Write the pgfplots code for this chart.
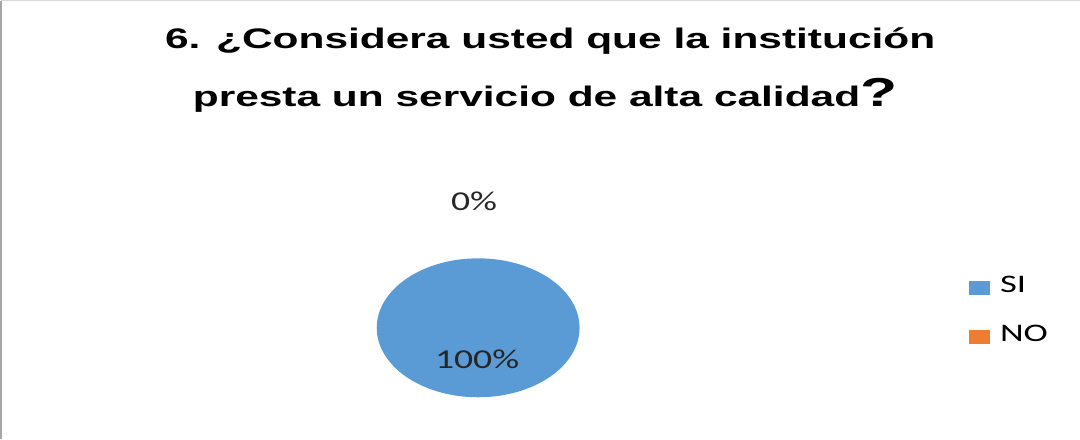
\documentclass[border=0pt]{standalone}
\usepackage{pgfplots}
\pgfplotsset{compat=1.18}
\usepackage{pgfplotstable}
\usepackage{fontspec}
\setmainfont{Carlito}
\newfontfamily\titlefont[FakeStretch=1.5]{Liberation Sans}
\newfontfamily\labfont[FakeStretch=1.38]{Carlito}
\newfontfamily\legfont[FakeStretch=1.45]{Carlito}
\definecolor{pieblue}{HTML}{5B9BD5}
\definecolor{pieorange}{HTML}{ED7D31}
\pgfplotstableread{
cat value
SI 100
NO 0
}\piedata
\begin{document}
\begin{tikzpicture}
\begin{axis}[
  width=1080bp, height=438bp, scale only axis,
  xmin=0, xmax=1080, ymin=0, ymax=438,
  axis lines=none, clip=false,
  legend style={draw=none, fill=none, at={(0.8917,0.285)}, anchor=west,
    inner sep=0pt,
    nodes={inner sep=0pt, text height=12bp, text depth=2bp},
    font=\legfont\fontsize{25}{28}\selectfont, row sep=34bp,
    legend cell align=left,
    /tikz/every odd column/.append style={column sep=10bp}},
  legend image code/.code={\fill[#1] (0bp,-6.5bp) rectangle (20bp,6.5bp);},
]
% pie: SI = 100 % of the whole, NO = 0 %
\pgfplotstablegetelem{0}{value}\of\piedata
\let\sival\pgfplotsretval
\pgfplotstablegetelem{1}{value}\of\piedata
\let\noval\pgfplotsretval
\fill[pieblue] (axis cs:479,109.5) ellipse [x radius=100, y radius=68.5];
\addlegendimage{pieblue}
\addlegendentry{SI}
\addlegendimage{pieorange}
\addlegendentry{NO}
\node[font=\labfont\fontsize{27}{30}\selectfont, text=black!85] at (axis cs:478,78) {\sival\%};
\node[font=\labfont\fontsize{27}{30}\selectfont, text=black!85] at (axis cs:475,234.5) {\noval\%};
% title
\node[font=\titlefont\bfseries\fontsize{28}{34}\selectfont, anchor=base]
  at (axis cs:550,385) {6. ¿Considera usted que la institución};
\node[font=\titlefont\bfseries\fontsize{28}{34}\selectfont, anchor=base]
  at (axis cs:545,328) {presta un servicio de alta calidad{\fontsize{40}{44}\selectfont?}};
% frame
\draw[gray!70, line width=1.5bp] (axis cs:8.5,0) -- (axis cs:8.5,432);
\draw[gray!30, line width=1bp] (axis cs:8,432) -- (axis cs:1072,432);
\end{axis}
\end{tikzpicture}
\end{document}
